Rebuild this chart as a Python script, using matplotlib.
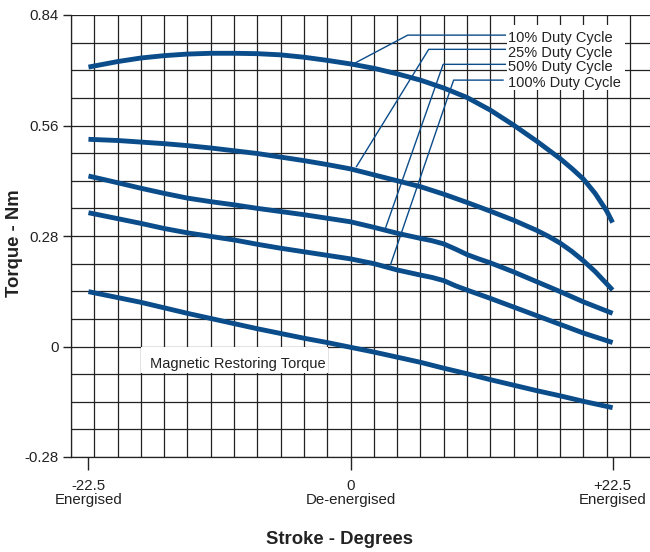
import matplotlib
matplotlib.use("Agg")
import matplotlib.pyplot as plt
from matplotlib.patches import Rectangle
import numpy as np

plt.rcParams['font.family'] = ['Liberation Sans', 'DejaVu Sans']

# curves (stroke in degrees, torque in Nm)
x10 = [-22.5, -20, -18, -16, -14, -12, -10, -8, -6, -4, -2, 0, 2, 4, 6, 8, 10, 12, 14, 16, 17, 18, 19, 20, 21, 22, 22.5]
y10 = [0.708, 0.722, 0.731, 0.737, 0.741, 0.743, 0.743, 0.742, 0.739, 0.733, 0.725, 0.716, 0.705, 0.691,
       0.675, 0.655, 0.631, 0.599, 0.561, 0.520, 0.498, 0.476, 0.451, 0.424, 0.388, 0.343, 0.314]

x25 = [-22.5, -20, -18, -16, -14, -12, -10, -8, -6, -4, -2, 0, 2, 4, 6, 8, 10, 12, 14, 16, 17, 18, 19, 20, 21, 22.5]
y25 = [0.525, 0.522, 0.518, 0.514, 0.509, 0.503, 0.496, 0.489, 0.480, 0.471, 0.461, 0.450, 0.435, 0.420,
       0.405, 0.386, 0.365, 0.343, 0.320, 0.294, 0.279, 0.262, 0.241, 0.217, 0.190, 0.143]

x50 = [-22.5, -20, -18, -16, -14, -12, -10, -8, -6, -4, -2, 0, 2, 4, 6, 7, 8, 9, 10, 11, 12, 14, 16, 18, 20, 22.5]
y50 = [0.432, 0.415, 0.401, 0.388, 0.376, 0.367, 0.359, 0.350, 0.342, 0.334, 0.325, 0.316, 0.302, 0.287,
       0.274, 0.268, 0.260, 0.247, 0.233, 0.222, 0.212, 0.189, 0.164, 0.139, 0.113, 0.084]

x100 = [-22.5, -20, -18, -16, -14, -12, -10, -8, -6, -4, -2, 0, 2, 4, 6, 7, 8, 9, 10, 12, 14, 16, 18, 20, 22.5]
y100 = [0.339, 0.324, 0.312, 0.299, 0.288, 0.279, 0.270, 0.259, 0.249, 0.240, 0.231, 0.222, 0.210, 0.194,
        0.181, 0.175, 0.167, 0.154, 0.143, 0.122, 0.100, 0.078, 0.056, 0.034, 0.010]

xmag = [-22.5, -20, -18, -16, -14, -12, -10, -8, -6, -4, -2, 0, 2, 4, 6, 8, 10, 12, 14, 16, 18, 20, 22.5]
ymag = [0.139, 0.124, 0.112, 0.098, 0.084, 0.071, 0.058, 0.045, 0.033, 0.021, 0.010, -0.002, -0.014, -0.027,
        -0.040, -0.055, -0.069, -0.084, -0.098, -0.112, -0.125, -0.139, -0.155]

labels = ['10% Duty Cycle', '25% Duty Cycle', '50% Duty Cycle', '100% Duty Cycle']
label_y = [0.772, 0.734, 0.699, 0.658]
# leader lines: start at label, corner, point on curve
lead_x = [[13.29, 4.91, 0.43], [13.29, 6.71, 0.51], [13.29, 7.95, 3.0], [13.09, 8.85, 3.43]]
lead_y = [[0.789, 0.789, 0.719], [0.753, 0.753, 0.456], [0.715, 0.715, 0.300], [0.675, 0.675, 0.207]]

xticks = [-22.5, 0, 22.5]
xticklabels = ['-22.5\nEnergised', '0\nDe-energised', '+22.5\nEnergised']
yticks = [0.84, 0.56, 0.28, 0, -0.28]
yticklabels = ['0.84', '0.56', '0.28', '0', '-0.28']

blue = '#0b4c8a'
ink = '#222222'

fig = plt.figure(figsize=(6.5, 5.52), dpi=100)
ax = fig.add_axes([71/650, 1-457/552, 1-71/650, (457-15)/552])

ax.set_xlim(-24, 25.71)
ax.set_ylim(-0.28, 0.84)

ax.set_xticks(xticks)
ax.set_xticklabels(xticklabels, linespacing=1.0)
ax.set_yticks(yticks)
ax.set_yticklabels(yticklabels)
ax.set_xticks(np.arange(-24, 25, 2), minor=True)
ax.set_yticks(np.arange(-0.28, 0.841, 0.07), minor=True)
ax.xaxis.remove_overlapping_locs = False
ax.yaxis.remove_overlapping_locs = False
ax.grid(which='minor', color=ink, linewidth=0.9)
ax.set_axisbelow(True)
ax.tick_params(which='minor', length=0)
ax.tick_params(axis='y', which='major', direction='out', length=6, width=1, color=ink,
               labelsize=10.8, labelcolor=ink, pad=3)
ax.tick_params(axis='x', which='major', direction='out', length=9, width=1, color=ink,
               labelsize=10.8, labelcolor=ink, pad=7)
for s in ['top', 'right']:
    ax.spines[s].set_visible(False)
for s in ['left', 'bottom']:
    ax.spines[s].set_color(ink)
    ax.spines[s].set_linewidth(0.9)

# white patches behind the labels
ax.add_patch(Rectangle((13.46, 0.650), 23.57-13.46, 0.815-0.650, facecolor='white',
                       edgecolor='none', zorder=2))
ax.add_patch(Rectangle((-18.0, -0.067), 16.03, 0.066, facecolor='white',
                       edgecolor='none', zorder=2))

for xs, ys in [(x10, y10), (x25, y25), (x50, y50), (x100, y100), (xmag, ymag)]:
    ax.plot(xs, ys, color=blue, linewidth=3.5, solid_capstyle='butt',
            solid_joinstyle='round', zorder=3)

for lx, ly in zip(lead_x, lead_y):
    ax.plot(lx, ly, color=blue, linewidth=1.0, zorder=3)

for lab, yy in zip(labels, label_y):
    ax.text(13.54, yy, lab, fontsize=10.5, color=ink, va='baseline', ha='left', zorder=4)

ax.text(-17.23, -0.054, 'Magnetic Restoring Torque', fontsize=10.5, color=ink,
        va='baseline', ha='left', zorder=4)

fig.text(15/650, 1-243/552, 'Torque - Nm', rotation=90, fontsize=13.3, fontweight='bold',
         color=ink, ha='center', va='center')
fig.text(339.5/650, 1-539/552, 'Stroke - Degrees', fontsize=13.3, fontweight='bold',
         color=ink, ha='center', va='center')

fig.savefig('out.png', dpi=100)
